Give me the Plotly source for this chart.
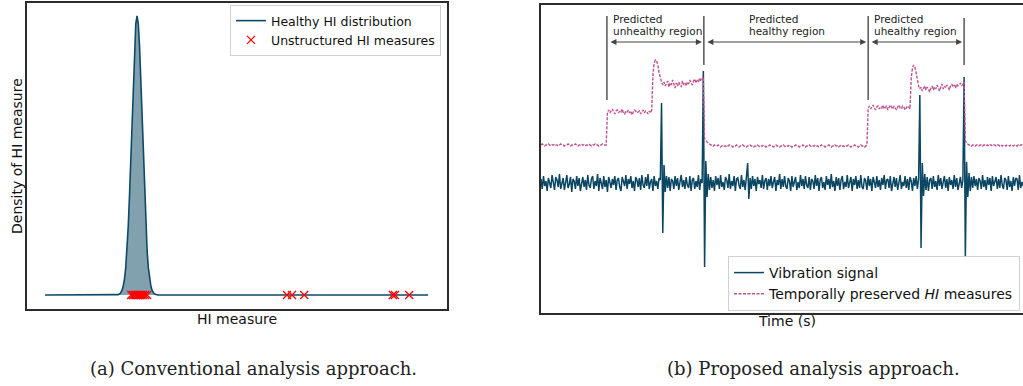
import numpy as np
import plotly.graph_objects as go

# ---------------- Data: panel (a) ----------------
hi_grid = [0.043, 0.212, 0.217, 0.222, 0.226, 0.229, 0.232, 0.235, 0.238, 0.241,
           0.244, 0.247, 0.250, 0.253, 0.256, 0.259, 0.262, 0.265, 0.268, 0.271,
           0.274, 0.277, 0.280, 0.283, 0.286, 0.289, 0.292, 0.295, 0.298, 0.302,
           0.307, 0.312, 0.955]
healthy_density = [0, 0.000, 0.0015, 0.006, 0.016, 0.031, 0.056, 0.097, 0.158, 0.244,
                   0.355, 0.487, 0.631, 0.772, 0.891, 0.972, 1.0, 0.972, 0.891, 0.772,
                   0.631, 0.487, 0.355, 0.244, 0.158, 0.097, 0.056, 0.031, 0.016, 0.006,
                   0.0015, 0, 0]
unstructured_hi = [0.248, 0.252, 0.256, 0.259, 0.262, 0.265, 0.268, 0.272, 0.276, 0.281, 0.286,
                   0.619, 0.631, 0.660,
                   0.871, 0.876, 0.910]

# ---------------- Data: panel (b) ----------------
sample_step = 2.5  # time units between samples
vibration = [
    4, -6, 7, -3, 2, -8, 5, 1, -5, 8, -2, -7, 6, 3, -4, 9, -6, 0, 5, -7,
    3, 8, -5, -1, 6, -9, 4, 2, -6, 7, -3, 5, -8, 1, 6, -4, 3, -7, 8, -2,
    -5, 4, 7, -6, 2, -3, 9, -8, 5, 0, -6, 7, -4, 3, -9, 6, 1, -5, 4, -2,
    7, -7, 3, 5, -4, -8, 6, 2, -3, 8, -6, 4, -1, 7, -5, 2, -8, 6, 3, -4,
    5, -7, 8, -2, -5, 6, -3, 9, -6, 1, 4, -8, 7, -3, 2, -6, 5, 3, 80, -50,
    18, -9, 7, -5, 6, -8, 4, 2, -6, 7, -3, 5, -7, 1, 8, -4, 3, -6, 6, -2,
    -5, 7, -8, 3, 5, -6, 2, -4, 8, -7, 4, 0, 112, -84, 22, -14, 9, -7, 6, -5,
    3, -8, 7, -2, 5, -6, 8, -4, 1, -7, 6, 3, -5, 9, -6, 2, -3, 7, -8, 4,
    5, -2, -6, 8, -4, 3, -7, 6, 20, -16, 5, -6, 7, -3, 4, -8, 6, -1, 3, -5,
    8, -6, 2, 5, -7, 4, -3, 7, -5, 1, 6, -8, 3, -2, 9, -6, 4, -4, 7, -3,
    -6, 5, 2, -8, 7, -4, 3, 6, -7, 1, -5, 8, -3, 4, -6, 7, -2, -5, 6, -7,
    4, 2, -6, 8, -3, 5, -8, 3, 6, -5, 1, -7, 7, -2, 4, -6, 9, -4, 2, -8,
    6, -3, 5, -7, 3, 7, -6, 1, -4, 8, -5, 2, 6, -8, 4, -2, 7, -6, 3, -5,
    8, -4, -6, 5, 2, -7, 7, -3, 4, -8, 6, 1, -5, 7, -4, 3, -7, 5, -2, 8,
    -6, 3, 4, -5, 7, -8, 2, 6, -4, 5, -7, 3, 8, -6, 1, -3, 7, -5, 4, -7,
    6, 2, -8, 5, -3, 7, -6, 4, 88, -65, 20, -13, 9, -7, 6, -8, 3, 5, -6, 7,
    -4, 2, -7, 8, -3, 5, -6, 1, 7, -5, 4, -8, 6, -2, 3, -6, 8, -4, 5, -7,
    2, 6, -5, 3, 106, -75, 21, -14, 10, -8, 6, -5, 7, -3, 4, -7, 5, 2, -6, 8,
    -4, 3, -7, 6, -2, 5, -8, 7, -3, 1, 6, -6, 4, -5, 8, -2, -6, 5, 3, -7,
    7, -4, 2, -8, 6, -3, 5, 4, -7, 8, -5, 1, -3, 7, -6, 3, 6, -8, 4, -2,
]
hi_measures = [
    38, 39, 38, 37, 38, 38, 39, 38, 37, 38, 38, 39, 38, 38, 37, 38, 39, 38, 38, 37,
    38, 38, 39, 38, 37, 38, 38, 38, 39, 38, 37, 38, 38, 39, 38, 38, 37, 38, 38, 39,
    38, 37, 38, 38, 39, 38, 38, 37, 38, 38, 39, 38, 38, 38, 71, 73, 70, 72, 74, 71,
    69, 72, 73, 70, 72, 71, 74, 70, 69, 72, 71, 73, 70, 72, 68, 71, 73, 72, 70, 71,
    72, 69, 71, 73, 70, 72, 71, 69, 72, 70, 73, 108, 120, 123, 122, 118, 110, 104, 101, 98,
    101, 97, 99, 102, 96, 100, 98, 103, 99, 95, 100, 97, 101, 99, 96, 102, 98, 100, 97, 101,
    99, 103, 100, 98, 102, 104, 100, 103, 101, 105, 102, 104, 106, 44, 42, 41, 40, 39, 38, 38,
    37, 38, 37, 37, 38, 37, 36, 37, 38, 37, 37, 36, 37, 38, 37, 37, 36, 37, 37, 38,
    37, 36, 37, 37, 38, 37, 36, 36, 37, 37, 38, 37, 37, 36, 37, 37, 38, 37, 36, 37,
    37, 38, 37, 36, 37, 37, 38, 37, 37, 36, 37, 38, 37, 37, 36, 37, 37, 38, 37, 36,
    37, 37, 38, 37, 36, 37, 37, 38, 37, 37, 36, 37, 37, 38, 37, 36, 37, 37, 38, 37,
    36, 37, 37, 38, 37, 37, 36, 37, 38, 37, 37, 36, 37, 37, 38, 37, 36, 37, 37, 38,
    37, 37, 36, 37, 38, 37, 37, 36, 37, 37, 38, 37, 36, 37, 37, 38, 37, 37, 36, 37,
    38, 37, 37, 36, 37, 38, 75, 77, 74, 76, 78, 75, 73, 76, 77, 74, 76, 75, 78, 74,
    76, 77, 73, 75, 78, 76, 74, 77, 75, 73, 76, 78, 75, 74, 77, 76, 73, 75, 77, 76,
    74, 105, 115, 118, 116, 110, 102, 97, 94, 96, 92, 95, 97, 93, 96, 94, 91, 95, 97, 93,
    96, 94, 98, 95, 92, 96, 99, 94, 97, 95, 98, 96, 93, 97, 99, 96, 98, 95, 99, 97,
    98, 100, 97, 99, 101, 42, 40, 39, 38, 38, 37, 38, 38, 37, 38, 38, 37, 38, 38, 37,
    38, 38, 37, 38, 37, 38, 38, 37, 38, 38, 37, 38, 38, 37, 38, 37, 38, 38, 37, 38,
    38, 37, 38, 38, 37, 38, 38, 37, 38, 37, 38, 38, 37, 38, 38, 37, 38, 37, 38, 38,
]
region_edges = [134, 331, 665, 860]
region_labels = [("Predicted", "unhealthy region", 142),
                 ("Predicted", "healthy region", 418),
                 ("Predicted", "uhealthy region", 672)]

time_v = np.arange(len(vibration)) * sample_step
time_hi = np.arange(len(hi_measures)) * sample_step

# ---------------- Styles ----------------
W, H = 1023, 386
FONT = "DejaVu Sans"
DARK = "#0e4a66"
PINK = "#c0508e"
SPINE = "#2b2b2b"
GREY = "#555555"

fig = go.Figure()

# Panel (a)
fig.add_trace(go.Scatter(x=hi_grid, y=healthy_density, mode="lines", fill="tozeroy",
                         fillcolor="rgba(14,74,102,0.52)", line=dict(width=0),
                         showlegend=False, hoverinfo="skip", xaxis="x", yaxis="y"))
fig.add_trace(go.Scatter(x=hi_grid, y=healthy_density, mode="lines",
                         line=dict(color=DARK, width=1.6),
                         name="Healthy HI distribution", legend="legend",
                         xaxis="x", yaxis="y"))
fig.add_trace(go.Scatter(x=unstructured_hi, y=[0] * len(unstructured_hi), mode="markers",
                         marker=dict(symbol="x-thin", size=8, line=dict(color="red", width=1.3),
                                     color="red"),
                         name="Unstructured HI measures", legend="legend",
                         xaxis="x", yaxis="y"))

# Panel (b)
fig.add_trace(go.Scatter(x=time_v, y=vibration, mode="lines",
                         line=dict(color="#0b4663", width=1.5),
                         name="Vibration signal", legend="legend2",
                         xaxis="x2", yaxis="y2"))
fig.add_trace(go.Scatter(x=time_hi, y=hi_measures, mode="lines",
                         line=dict(color=PINK, width=1.4, dash="3px,1.5px"),
                         name="Temporally preserved <i>HI</i> measures", legend="legend2",
                         xaxis="x2", yaxis="y2"))

# Region markers
line_tops = [167, 167, 167, 165]
line_bottoms = [83, 118, 83, 118]
for e, top, bot in zip(region_edges, line_tops, line_bottoms):
    fig.add_shape(type="line", xref="x2", yref="y2", x0=e, x1=e, y0=bot, y1=top,
                  line=dict(color=GREY, width=1.5))
for a, b in zip(region_edges[:-1], region_edges[1:]):
    fig.add_annotation(xref="x2", yref="y2", axref="x2", ayref="y2",
                       x=b, y=141, ax=a, ay=141, text="", showarrow=True,
                       arrowside="end+start", arrowhead=2, arrowsize=1, arrowwidth=1.2,
                       arrowcolor="#444444", standoff=2, startstandoff=2)
for l1, l2, xt in region_labels:
    fig.add_annotation(xref="x2", yref="y2", x=xt, y=164.5, text=l1, showarrow=False,
                       xanchor="left", yanchor="middle",
                       font=dict(family=FONT, size=10.5, color="#222222"))
    fig.add_annotation(xref="x2", yref="y2", x=xt, y=152.5, text=l2, showarrow=False,
                       xanchor="left", yanchor="middle",
                       font=dict(family=FONT, size=10.5, color="#222222"))

# Axis titles & captions
def px_x(p):
    return p / W

def px_y(p):
    return 1 - p / H

fig.add_annotation(xref="paper", yref="paper", x=px_x(237), y=px_y(319), text="HI measure",
                   showarrow=False, xanchor="center", yanchor="middle",
                   font=dict(family=FONT, size=14, color="#111111"))
fig.add_annotation(xref="paper", yref="paper", x=px_x(17), y=px_y(156),
                   text="Density of HI measure", textangle=-90,
                   showarrow=False, xanchor="center", yanchor="middle",
                   font=dict(family=FONT, size=14, color="#111111"))
fig.add_annotation(xref="paper", yref="paper", x=px_x(787), y=px_y(321), text="Time (s)",
                   showarrow=False, xanchor="center", yanchor="middle",
                   font=dict(family=FONT, size=14, color="#111111"))
fig.add_annotation(xref="paper", yref="paper", x=px_x(253), y=px_y(368),
                   text="(a) Conventional analysis approach.",
                   showarrow=False, xanchor="center", yanchor="middle",
                   font=dict(family="DejaVu Serif", size=18, color="#222222"))
fig.add_annotation(xref="paper", yref="paper", x=px_x(813), y=px_y(368),
                   text="(b) Proposed analysis approach.",
                   showarrow=False, xanchor="center", yanchor="middle",
                   font=dict(family="DejaVu Serif", size=18, color="#222222"))

axis_common = dict(showgrid=False, zeroline=False, showticklabels=False, ticks="",
                   linecolor=SPINE, linewidth=1.5, showline=True)

fig.update_layout(
    width=W, height=H,
    margin=dict(l=0, r=0, t=0, b=0, autoexpand=False),
    paper_bgcolor="white", plot_bgcolor="white",
    font=dict(family=FONT, color="#111111"),
    xaxis=dict(domain=[27 / W, 447 / W], range=[0, 1], mirror=True, anchor="y", **axis_common),
    yaxis=dict(domain=[1 - 309 / H, 1 - 3 / H], range=[-0.0502, 1.0466], mirror=True,
               anchor="x", **axis_common),
    xaxis2=dict(domain=[541 / W, 1.0], range=[0, 979.7], mirror=True, anchor="y2", **axis_common),
    yaxis2=dict(domain=[1 - 313 / H, 1 - 5 / H], range=[-130, 178], mirror=False,
                anchor="x2", **axis_common),
    legend=dict(x=px_x(230), y=px_y(5), xanchor="left", yanchor="top",
                bgcolor="rgba(255,255,255,0.9)", bordercolor="#d0d0d0", borderwidth=1,
                font=dict(family=FONT, size=12.5, color="#111111")),
    legend2=dict(x=px_x(728), y=px_y(256), xanchor="left", yanchor="top",
                 bgcolor="rgba(255,255,255,0.9)", bordercolor="#d0d0d0", borderwidth=1,
                 font=dict(family=FONT, size=14, color="#111111")),
    showlegend=True,
)

fig.write_html("out.html")
